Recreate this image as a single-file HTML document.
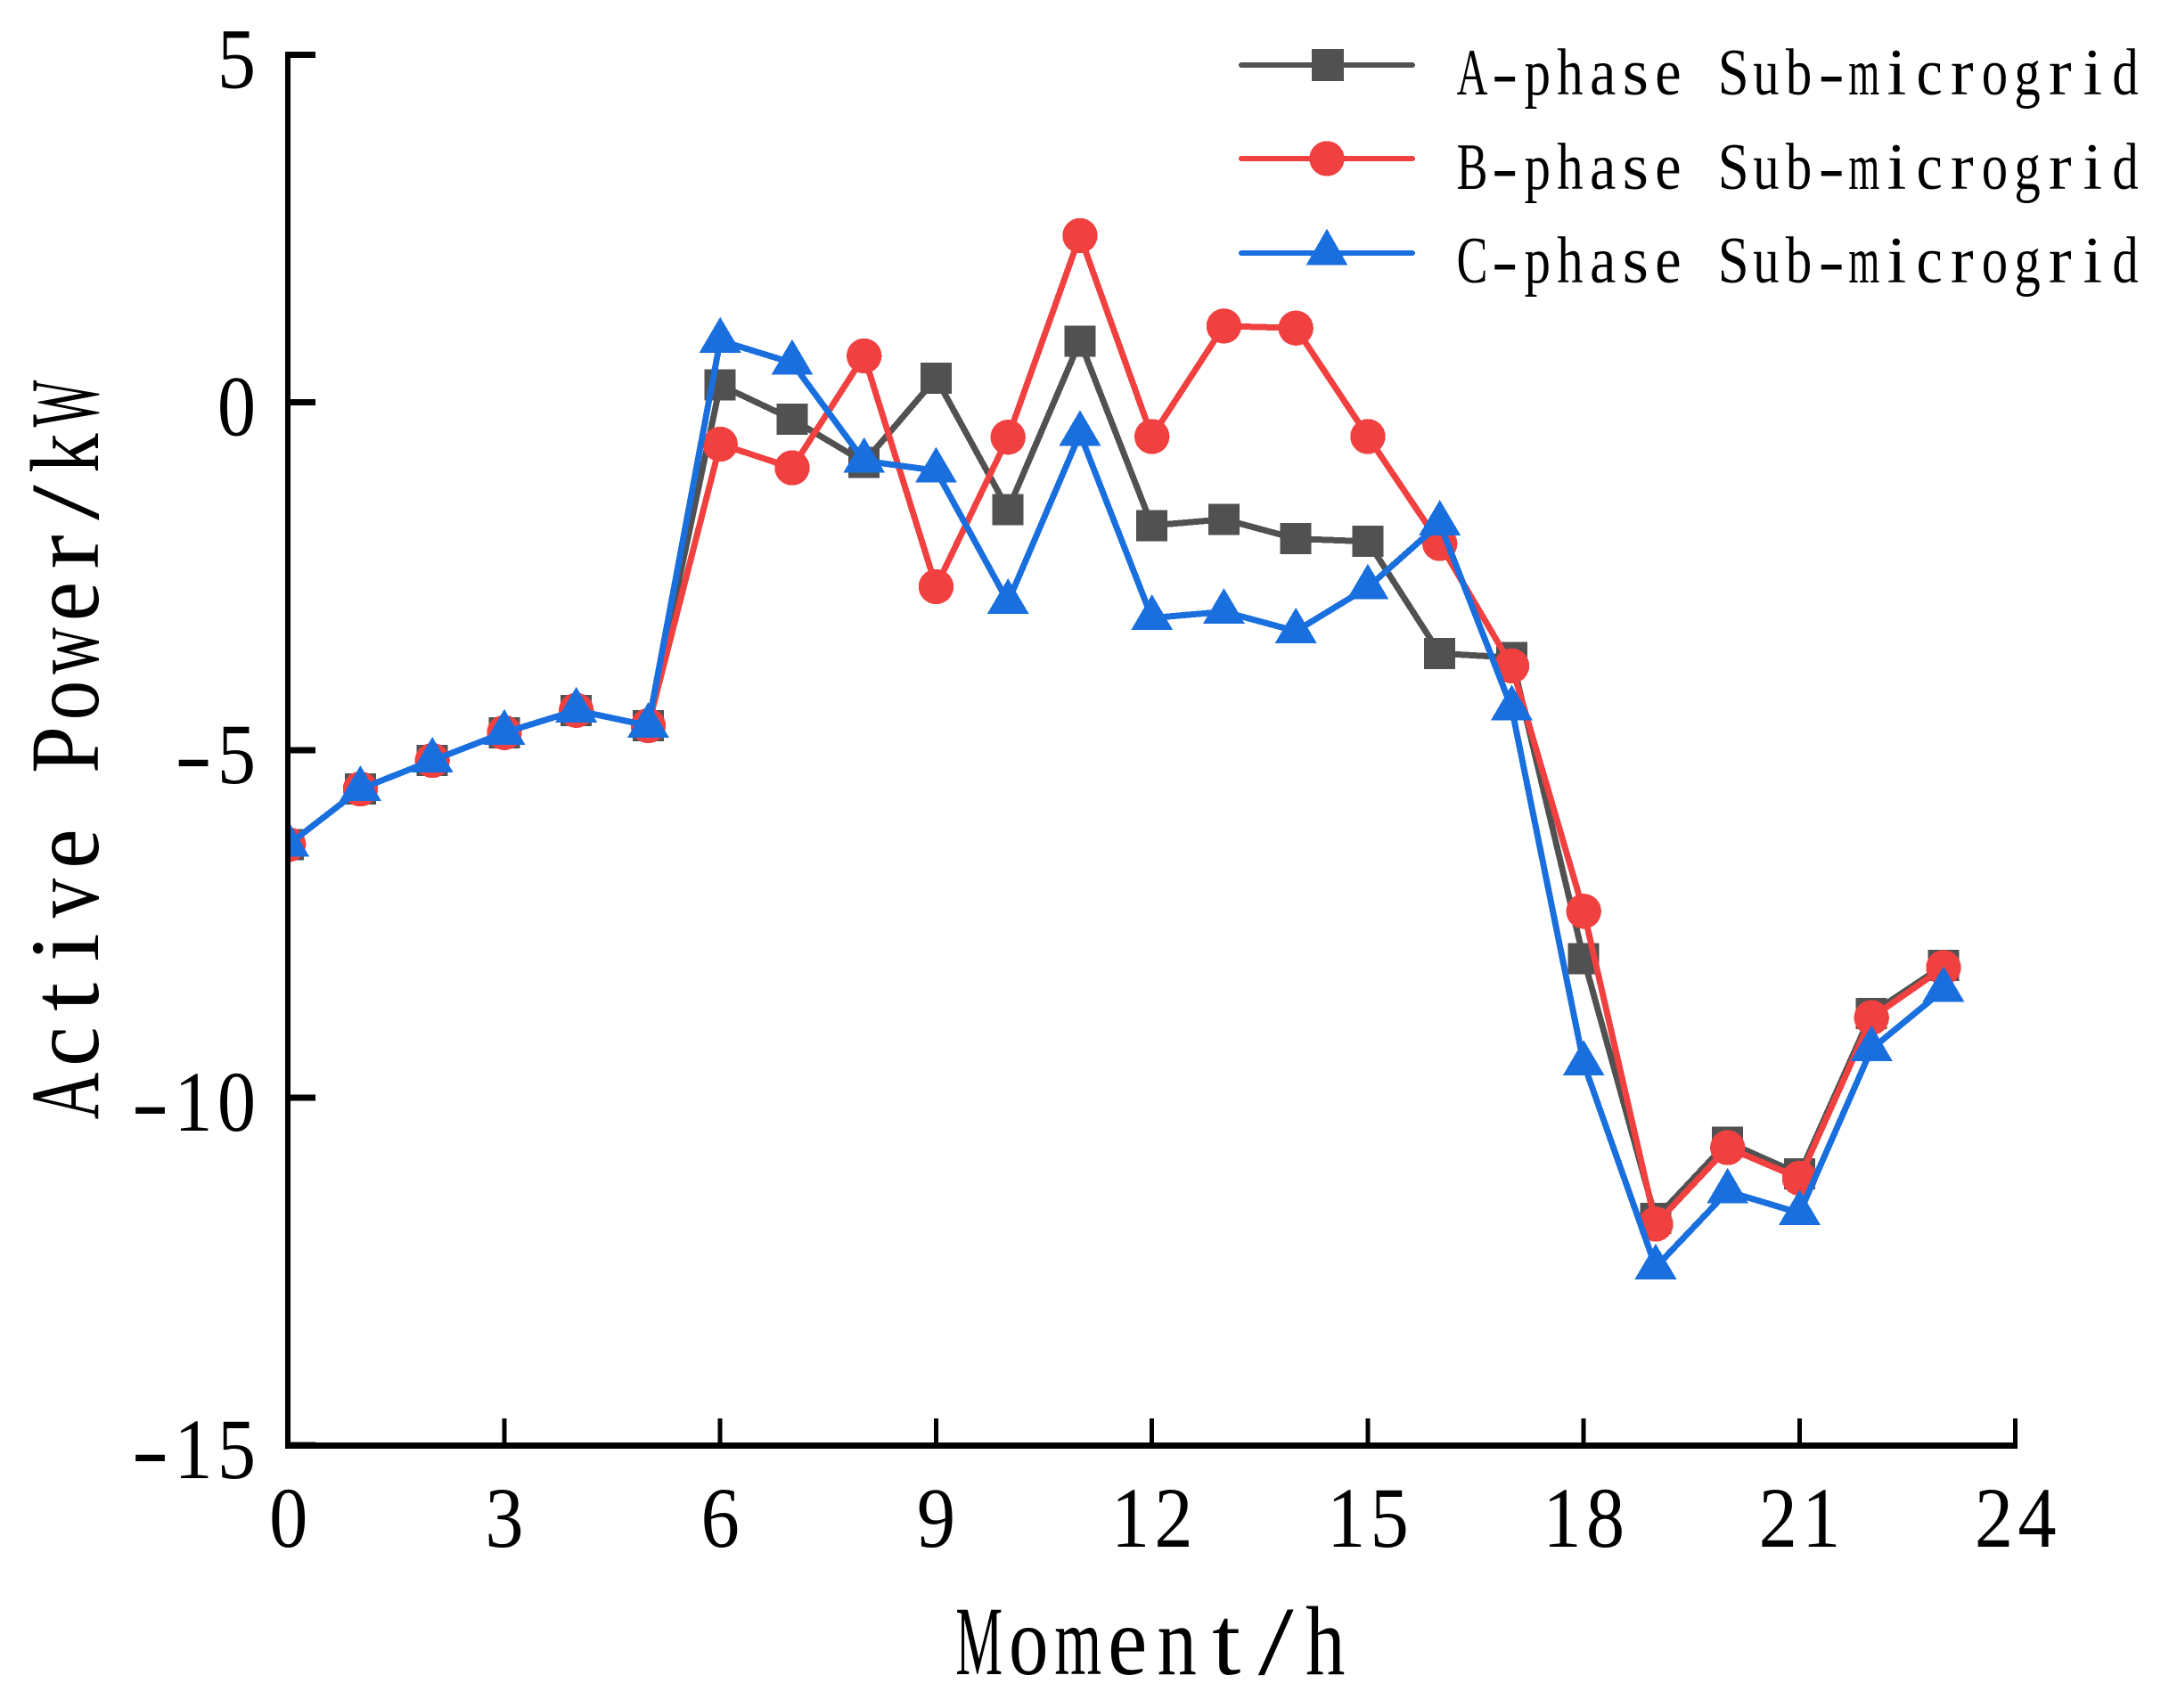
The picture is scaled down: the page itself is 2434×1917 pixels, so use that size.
<!DOCTYPE html>
<html lang="en">
<head>
<meta charset="utf-8">
<title>Active Power by Moment</title>
<style>
html,body{margin:0;padding:0;background:#fff;}
svg{display:block;}
text{font-family:"Liberation Serif","Noto Serif CJK SC",serif;fill:#000;text-anchor:middle;}
text.mono,text.ylabel{text-anchor:start;}
line,rect,polyline,polygon,circle{shape-rendering:crispEdges;}
</style>
</head>
<body>
<svg id="chart" xmlns="http://www.w3.org/2000/svg" width="2434" height="1917" viewBox="0 0 2434 1917">
  <defs><clipPath id="plot-clip"><rect x="323" y="0" width="2000" height="1700"/></clipPath></defs>
  <rect x="0" y="0" width="2434" height="1917" fill="#fff"/>
  <g id="series-layer" clip-path="url(#plot-clip)"></g>
  <g id="axis-layer"></g>

  <text class="mono" data-pitch="55.5" font-size="110" transform="translate(1293,1879)">Moment/h</text>
  <text class="mono" data-pitch="55.5" font-size="110" transform="translate(110,841.5) rotate(-90)">Active Power/kW</text>

  <g>
    <g>
      <line x1="1393" y1="73" x2="1585" y2="73" stroke="#515151" stroke-width="6" stroke-linecap="round"/>
      <rect x="1472" y="55" width="36" height="36" fill="#515151"/>
      <text class="mono" data-pitch="36.65" font-size="74" transform="translate(2018.5,106)">A-phase Sub-microgrid</text>
    </g>
    <g>
      <line x1="1393" y1="178" x2="1585" y2="178" stroke="#F14040" stroke-width="6" stroke-linecap="round"/>
      <circle cx="1489" cy="178" r="19.7" fill="#F14040"/>
      <text class="mono" data-pitch="36.65" font-size="74" transform="translate(2018.5,212)">B-phase Sub-microgrid</text>
    </g>
    <g>
      <line x1="1393" y1="284" x2="1585" y2="284" stroke="#1A6FDF" stroke-width="6" stroke-linecap="round"/>
      <polygon points="1489,256.7 1512.5,297.7 1465.5,297.7" fill="#1A6FDF"/>
      <text class="mono" data-pitch="36.65" font-size="74" transform="translate(2018.5,317)">C-phase Sub-microgrid</text>
    </g>
  </g>
</svg>
<script>
// Chart data
const hours = [0,1,2,3,4,5,6,7,8,9,10,11,12,13,14,15,16,17,18,19,20,21,22,23];
const phaseA = [-6.36,-5.56,-5.15,-4.75,-4.43,-4.65,0.25,-0.24,-0.86,0.35,-1.54,0.88,-1.77,-1.68,-1.96,-2.00,-3.61,-3.67,-8.00,-11.74,-10.64,-11.10,-8.79,-8.10];
const phaseB = [-6.36,-5.56,-5.15,-4.75,-4.43,-4.65,-0.60,-0.94,0.67,-2.65,-0.50,2.40,-0.49,1.10,1.07,-0.49,-2.03,-3.79,-7.32,-11.82,-10.72,-11.16,-8.85,-8.13];
const phaseC = [-6.36,-5.56,-5.15,-4.75,-4.43,-4.65,0.89,0.57,-0.84,-0.98,-2.87,-0.45,-3.10,-3.01,-3.29,-2.66,-1.74,-4.40,-9.51,-12.44,-11.35,-11.66,-9.30,-8.45];
const xTickValues = [0,3,6,9,12,15,18,21,24];
const yTickValues = [5,0,-5,-10,-15];

const NS = 'http://www.w3.org/2000/svg';
const COLOR_A = '#515151', COLOR_B = '#F14040', COLOR_C = '#1A6FDF';
const xScale = function (h) { return 323.7 + h * 80.75; };
const yScale = function (v) { return 451.7 - v * 78.02; };

const seriesLayer = document.getElementById('series-layer');
const axisLayer = document.getElementById('axis-layer');

function make(tag, parent) {
  const el = document.createElementNS(NS, tag);
  parent.appendChild(el);
  return el;
}

// Lays the characters of a text element out in fixed-width cells, fitting each glyph to its cell.
function fitChars(t, centers, widthFor) {
  const s = t.textContent;
  const natural = [];
  for (let i = 0; i < s.length; i++) {
    natural.push(t.getSubStringLength(i, 1));
  }
  t.textContent = '';
  for (let i = 0; i < s.length; i++) {
    if (s[i] === ' ') {
      t.appendChild(document.createTextNode(' '));
      continue;
    }
    const w = widthFor(s[i], natural[i]);
    const span = make('tspan', t);
    span.textContent = s[i];
    span.setAttribute('x', centers[i] - w / 2);
    span.setAttribute('textLength', w);
    span.setAttribute('lengthAdjust', 'spacingAndGlyphs');
  }
}

function drawSeries(values, color, kind, label) {
  const group = make('g', seriesLayer);
  
  
  const line = make('polyline', group);
  
  
  line.setAttribute('points', values.map(function (v, i) { return xScale(hours[i]) + ',' + yScale(v); }).join(' '));
  line.setAttribute('fill', 'none');
  line.setAttribute('stroke', color);
  line.setAttribute('stroke-width', '7');
  line.setAttribute('stroke-linejoin', 'round');
  values.forEach(function (v, i) {
    const cx = xScale(hours[i]);
    const cy = yScale(v);
    let m;
    if (kind === 'square') {
      m = make('rect', group);
      m.setAttribute('x', cx - 17.5);
      m.setAttribute('y', cy - 17.5);
      m.setAttribute('width', 35);
      m.setAttribute('height', 35);
    } else if (kind === 'circle') {
      m = make('circle', group);
      m.setAttribute('cx', cx);
      m.setAttribute('cy', cy);
      m.setAttribute('r', 19.7);
    } else {
      m = make('polygon', group);
      m.setAttribute('points', cx + ',' + (cy - 26.5) + ' ' + (cx + 23.5) + ',' + (cy + 13.5) + ' ' + (cx - 23.5) + ',' + (cy + 13.5));
    }
    m.setAttribute('fill', color);
    
    
  });
}

drawSeries(phaseA, COLOR_A, 'square', 'a-phase');
drawSeries(phaseB, COLOR_B, 'circle', 'b-phase');
drawSeries(phaseC, COLOR_C, 'triangle', 'c-phase');

// Axes
const yAxisLine = make('line', axisLayer);


yAxisLine.setAttribute('x1', 323);
yAxisLine.setAttribute('x2', 323);
yAxisLine.setAttribute('y1', yScale(5) - 3.5);
yAxisLine.setAttribute('y2', yScale(-15) + 3.5);
yAxisLine.setAttribute('stroke', '#000');
yAxisLine.setAttribute('stroke-width', '6');

const xAxisLine = make('line', axisLayer);


xAxisLine.setAttribute('x1', 320);
xAxisLine.setAttribute('x2', xScale(24) + 2.5);
xAxisLine.setAttribute('y1', 1622.5);
xAxisLine.setAttribute('y2', 1622.5);
xAxisLine.setAttribute('stroke', '#000');
xAxisLine.setAttribute('stroke-width', '7');

const TICK_FONT = 96, TICK_SX = 0.9, TICK_PITCH = 48.5;

xTickValues.forEach(function (t) {
  const x = xScale(t);
  const tick = make('line', axisLayer);
  
  
  tick.setAttribute('x1', x);
  tick.setAttribute('x2', x);
  tick.setAttribute('y1', yScale(-15));
  tick.setAttribute('y2', yScale(-15) - 30);
  tick.setAttribute('stroke', '#000');
  tick.setAttribute('stroke-width', '5');
  const label = make('text', axisLayer);
  
  
  label.setAttribute('font-size', TICK_FONT);
  const s = String(t);
  label.textContent = s;
  label.setAttribute('x', s.split('').map(function (c, i) { return (i - (s.length - 1) / 2) * TICK_PITCH / TICK_SX; }).join(' '));
  label.setAttribute('transform', 'translate(' + x + ',1736) scale(' + TICK_SX + ',1)');
});

yTickValues.forEach(function (t) {
  const y = yScale(t);
  const tick = make('line', axisLayer);
  
  
  tick.setAttribute('x1', 323);
  tick.setAttribute('x2', 354);
  tick.setAttribute('y1', y);
  tick.setAttribute('y2', y);
  tick.setAttribute('stroke', '#000');
  tick.setAttribute('stroke-width', '7');
  const label = make('text', axisLayer);
  label.setAttribute('class', 'ylabel');
  
  
  label.setAttribute('font-size', TICK_FONT);
  const s = String(t);
  label.textContent = s;
  label.setAttribute('transform', 'translate(265.5,' + (y + 37) + ')');
  const centers = s.split('').map(function (c, i) { return (i - (s.length - 1)) * TICK_PITCH; });
  fitChars(label, centers, function (c, natural) {
    return c === '-' ? 42 : natural * TICK_SX;
  });
});

// Fixed-pitch layout for the axis titles and legend labels
document.querySelectorAll('text.mono').forEach(function (t) {
  const s = t.textContent;
  const pitch = parseFloat(t.getAttribute('data-pitch'));
  const centers = [];
  for (let i = 0; i < s.length; i++) {
    centers.push((i - (s.length - 1) / 2) * pitch);
  }
  fitChars(t, centers, function (c, natural) {
    const wide = /[A-Zmw]/.test(c);
    const limit = pitch * (wide ? 0.95 : 0.8);
    const stretch = /[-\/]/.test(c) ? 1.3 : 1.05;
    return Math.min(limit, natural * stretch);
  });
});
</script>
</body>
</html>
